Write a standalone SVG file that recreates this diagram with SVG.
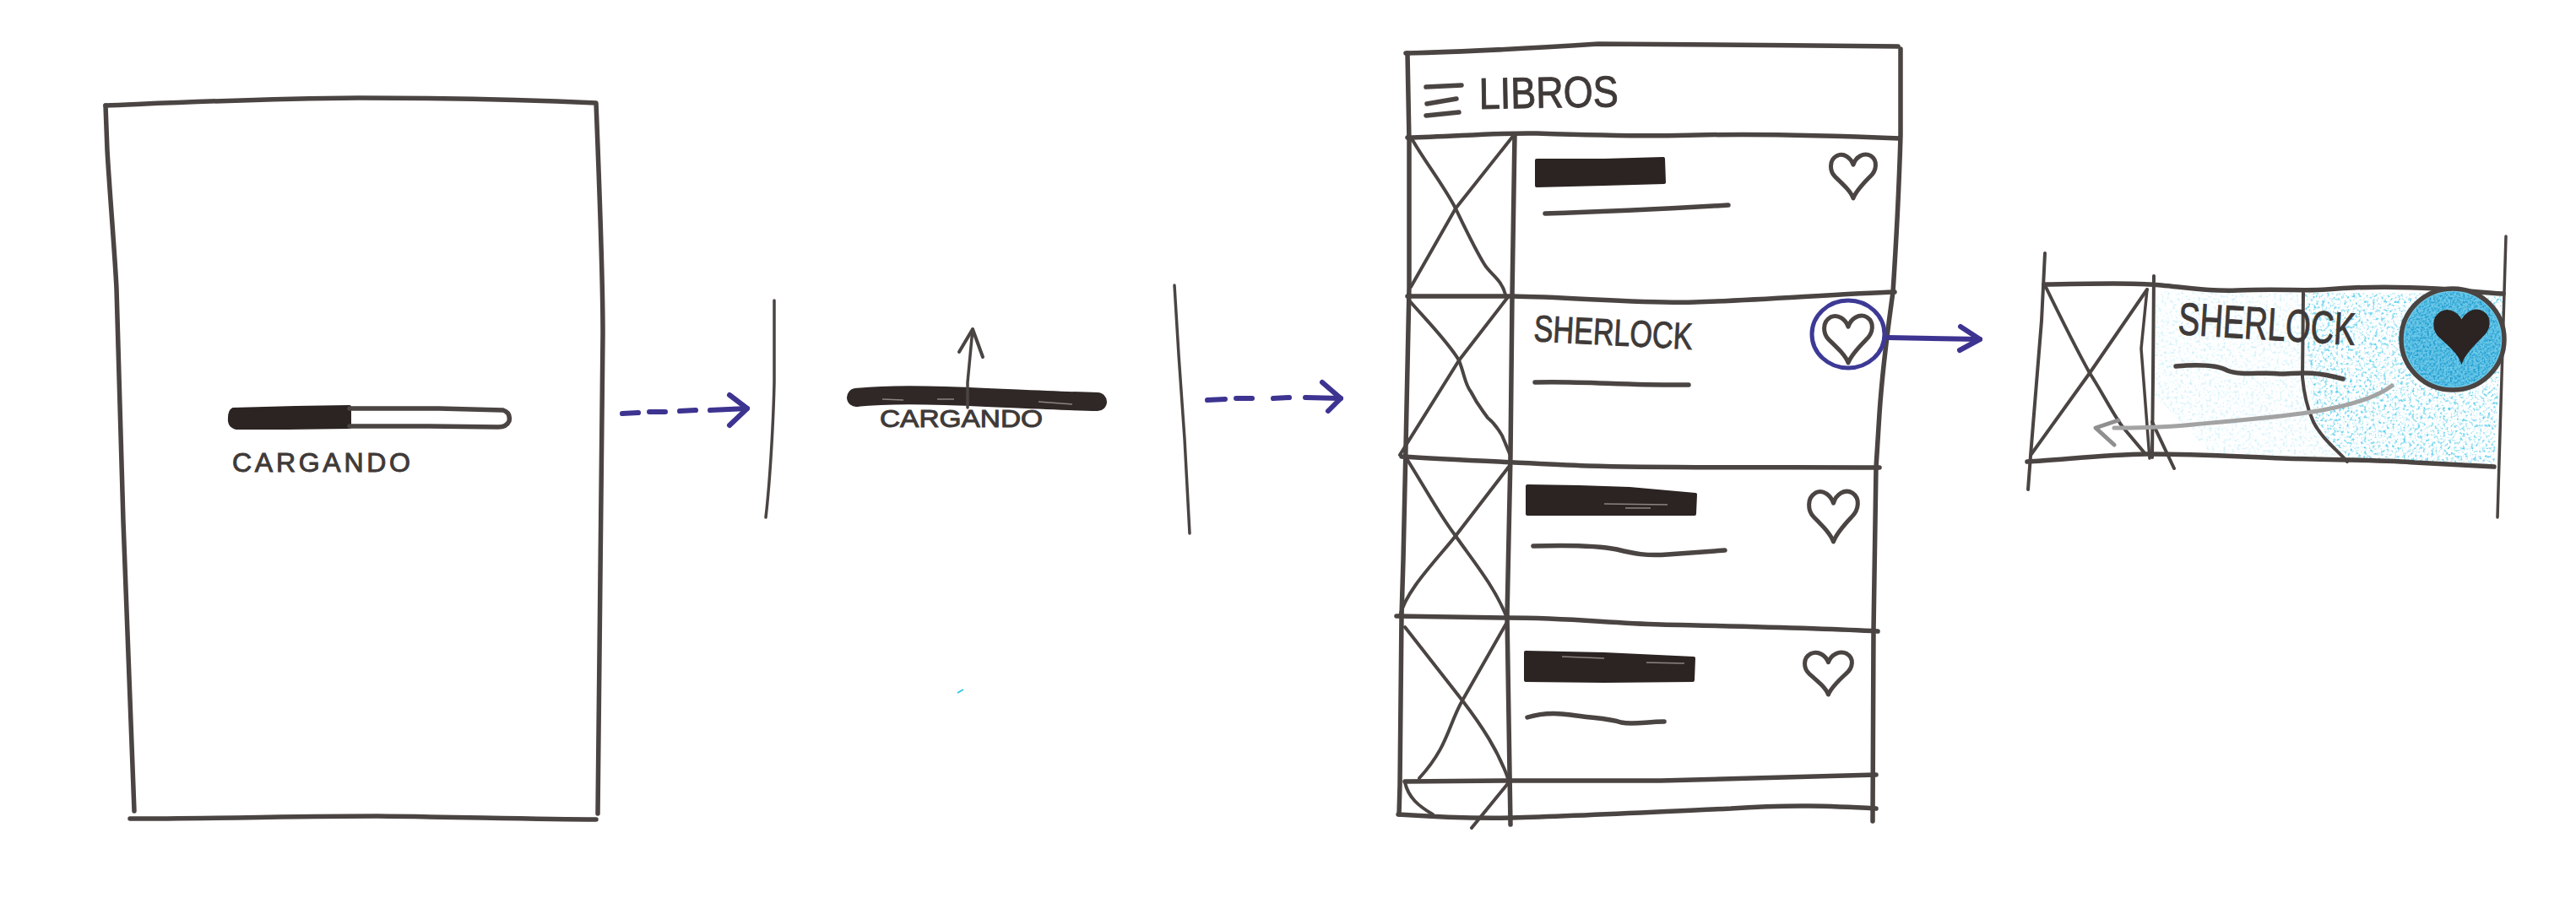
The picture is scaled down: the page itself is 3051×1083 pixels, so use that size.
<svg xmlns="http://www.w3.org/2000/svg" width="3051" height="1083" viewBox="0 0 3051 1083">
<style>
.p{fill:none;stroke:#4a4442;stroke-width:5.5;stroke-linecap:round;stroke-linejoin:round}
.t{stroke-width:4}
.n{stroke-width:3.5}
.ink{fill:#2b2422;stroke:#2b2422;stroke-width:4;stroke-linejoin:round}
.b{fill:none;stroke:#3d3390;stroke-width:6;stroke-linecap:round;stroke-linejoin:round}
.hand{font-family:"Liberation Sans",Arial,sans-serif;fill:#3f3a38;stroke:#3f3a38;stroke-width:1}
.h{fill:none;stroke:#4a4442;stroke-width:5;stroke-linejoin:round}
.st{fill:none;stroke:#8a8482;stroke-width:1.5}
</style>
<defs>
<path id="heart" vector-effect="non-scaling-stroke" d="M50,100 C45,85 30,70 12,52 C0,40 -2,15 15,5 C30,-3 45,10 50,25 C55,8 72,-4 87,5 C102,15 100,38 85,52 C70,68 55,85 50,100 Z"/>
<filter id="speck" x="0" y="0" width="100%" height="100%">
<feTurbulence type="fractalNoise" baseFrequency=".3" numOctaves="3" seed="4"/>
<feColorMatrix values="0 0 0 0 0 0 0 0 0 0 0 0 0 0 0 3.4 0 0 0 -1.7"/>
<feComposite in="SourceGraphic" operator="in"/>
</filter>
<filter id="dense" x="0" y="0" width="100%" height="100%">
<feTurbulence type="fractalNoise" baseFrequency=".4" numOctaves="3" seed="9"/>
<feColorMatrix values="0 0 0 0 0 0 0 0 0 0 0 0 0 0 0 2.6 0 0 0 -1"/>
<feComposite in="SourceGraphic" operator="in"/>
</filter>
</defs>
<rect width="3051" height="1083" fill="#fff"/>

<g id="screen-loading">
<path class="p" d="M125,125 C200,122 300,117 425,116 C520,116 620,118 706,122 C709,200 714,320 714,395 L708,964"/>
<path class="p" d="M125,125 L127,178 C130,230 136,300 138,342 L146,618 L159,961"/>
<path class="p" d="M154,970 C250,970 360,967 447,967 C540,968 640,971 706,971"/>
<path class="ink" d="M276,485 L350,483 L414,482 L414,506 L340,507 L280,507 Q271,505 272,495 Q272,487 276,485 Z"/>
<path class="p" d="M414,484 L520,484 L596,486 Q605,489 603,499 Q600,506 590,506 L500,505 L414,505"/>
<text class="hand" x="275" y="559" font-size="32" textLength="211" lengthAdjust="spacing">CARGANDO</text>
</g>

<g id="screen-transition">
<path class="p n" d="M917,356 L917,453 C916,500 912,570 907,613"/>
<path class="p n" d="M1391,338 L1396,420 L1403,520 L1409,632"/>
<path d="M1014,471 C1050,467 1090,468 1120,469 C1180,471 1250,475 1300,476" fill="none" stroke="#2f2826" stroke-width="22" stroke-linecap="round" stroke-linejoin="round"/>
<path class="st" d="M1045,473 L1070,474 M1110,473 L1130,473 M1230,476 L1270,479"/>
<path class="p n" d="M1146,483 L1146,453 L1152,390"/>
<path class="p t" d="M1136,417 L1152,390 L1164,423"/>
<text class="hand" x="1042" y="506" font-size="30" textLength="193" lengthAdjust="spacingAndGlyphs">CARGANDO</text>
</g>

<g id="screen-libros">
<path class="p" d="M1665,63 C1720,62 1800,58 1893,52 C1980,52 2130,54 2248,55"/>
<path class="p" d="M1667,63 L1669,168 L1669,340 L1665,530 L1662,663 L1660,730 L1658,930 L1657,965"/>
<path class="p" d="M2251,58 L2251,161 C2249,230 2245,300 2242,346 C2236,390 2230,430 2226,490 L2222,554 L2219,747 L2218,973"/>
<path class="p" d="M1667,163 C1720,162 1770,157 1820,158 C1880,160 1960,162 2010,160 C2100,158 2180,161 2250,164"/>
<path class="p" d="M1794,159 L1791,351 L1789,540 L1785,730 L1789,977"/>
<path class="p" d="M1667,351 L1791,351 C1860,352 1950,360 2007,358 C2080,356 2180,348 2244,346"/>
<path class="p" d="M1660,541 C1720,545 1800,548 1880,552 C1980,555 2100,553 2226,554"/>
<path class="p" d="M1654,730 L1785,732 C1860,732 1900,738 1967,740 C2050,742 2150,744 2224,748"/>
<path class="p" d="M1664,926 L1787,925 L1967,925 L2222,918"/>
<path class="p" d="M1656,965 C1700,968 1740,970 1790,969 C1870,967 1960,962 2050,958 C2120,953 2170,955 2222,958"/>
<g id="image-placeholders">
<path class="p t" d="M1673,166 C1690,195 1710,220 1724,247 C1735,270 1748,297 1758,313 C1765,325 1778,330 1783,349"/>
<path class="p t" d="M1793,160 L1724,247 L1671,340"/>
<path class="p t" d="M1669,356 C1690,380 1715,405 1728,427 C1735,445 1735,455 1742,464 C1750,480 1755,485 1762,495 C1772,503 1775,510 1779,516 L1789,540"/>
<path class="p t" d="M1786,352 L1728,427 L1658,539"/>
<path class="p t" d="M1667,545 C1695,590 1705,610 1724,635 C1745,665 1770,695 1784,730"/>
<path class="p t" d="M1787,553 L1724,635 C1700,665 1665,700 1658,730"/>
<path class="p t" d="M1664,743 L1732,830 C1755,860 1775,890 1787,925"/>
<path class="p t" d="M1785,737 L1732,830 C1715,860 1715,885 1681,922"/>
<path class="p t" d="M1664,927 C1668,945 1680,955 1697,965"/>
<path class="p t" d="M1787,927 L1743,981"/>
</g>
<g id="header">
<path class="p" d="M1689,103 L1731,101"/>
<path class="p" d="M1690,123 L1725,117"/>
<path class="p" d="M1689,137 L1728,133"/>
<text class="hand" x="1752" y="129" font-size="52" textLength="165" lengthAdjust="spacingAndGlyphs" transform="rotate(-1 1752 129)">LIBROS</text>
</g>
<g id="row-1">
<path class="ink" d="M1820,190 L1900,190 L1970,188 L1971,216 L1900,218 L1820,220 Z"/>
<path class="p" d="M1830,253 Q1930,250 2047,243"/>
<use href="#heart" class="h" transform="translate(2167,182) scale(.56,.53)"/>
</g>
<g id="row-2">
<text class="hand" x="1816" y="404" font-size="44" textLength="188" lengthAdjust="spacingAndGlyphs" transform="rotate(3 1816 404)">SHERLOCK</text>
<path class="p" d="M1818,453 C1870,451 1930,457 2000,456"/>
<use href="#heart" class="h" transform="translate(2159,373) scale(.6,.57)"/>
<ellipse cx="2189" cy="396" rx="43" ry="40" fill="none" stroke="#3d3a96" stroke-width="5"/>
</g>
<g id="row-3">
<path class="ink" d="M1809,576 L1870,577 L1930,579 L2008,586 L2007,609 L1930,609 L1809,609 Z"/>
<path class="st" d="M1900,597 L1975,598 M1925,602 L1955,602"/>
<path class="p" d="M1816,647 C1850,646 1890,646 1915,651 C1935,656 1950,659 1975,657 L2043,652"/>
<use href="#heart" class="h" transform="translate(2141,581) scale(.61,.61)"/>
</g>
<g id="row-4">
<path class="ink" d="M1807,773 L1900,775 L2006,780 L2005,806 L1900,807 L1807,806 Z"/>
<path class="st" d="M1850,778 L1900,780 M1950,785 L1995,786"/>
<path class="p" d="M1809,850 C1825,845 1840,844 1860,847 C1885,851 1905,851 1920,856 C1935,859 1950,855 1971,855"/>
<use href="#heart" class="h" transform="translate(2136,772) scale(.59,.51)"/>
</g>
</g>

<g id="screen-swipe">
<path d="M2728,347 L2965,348 L2954,553 L2780,547 L2740,500 Z" fill="#5fd0ec" filter="url(#speck)"/>
<path d="M2552,345 L2728,347 L2740,500 L2780,547 L2620,538 L2552,470 Z" fill="#a9e5f5" opacity=".5" filter="url(#speck)"/>
<path class="p t" d="M2422,300 L2418,380 L2405,540 L2402,580"/>
<path class="p t" d="M2551,327 L2550,447 L2549,542"/>
<path class="p n" d="M2543,343 L2536,413 L2546,543"/>
<path class="p t" d="M2422,338 C2440,375 2460,415 2475,442 C2490,465 2505,495 2515,507 L2541,538"/>
<path class="p t" d="M2543,343 L2475,442 L2406,538"/>
<path class="p t" d="M2549,500 L2575,555"/>
<path class="p t" d="M2728,347 L2727,447 C2730,480 2738,495 2740,500 C2750,520 2770,535 2780,547"/>
<path class="p n" d="M2968,280 L2965,380 L2958,613"/>
<path class="p" d="M2421,337 C2480,336 2530,335 2560,338 C2600,342 2620,345 2650,344 C2700,342 2730,345 2755,343 C2800,339 2850,340 2886,342 C2920,344 2940,347 2965,348"/>
<path class="p" d="M2401,547 C2440,545 2500,538 2546,538 C2600,538 2650,541 2703,543 C2760,545 2830,545 2860,548 L2954,553"/>
<text class="hand" x="2579" y="396" font-size="54" textLength="210" lengthAdjust="spacingAndGlyphs" transform="rotate(3.5 2579 396)">SHERLOCK</text>
<path class="p" d="M2577,434 C2600,432 2625,432 2638,439 C2655,446 2680,440 2700,443 C2720,443 2735,438 2775,449"/>
<ellipse cx="2905" cy="402" rx="61" ry="60" fill="#6cc8e8" stroke="#4a4442" stroke-width="5.5"/>
<ellipse cx="2905" cy="402" rx="57" ry="56" fill="#1c9bcf" filter="url(#dense)"/>
<use href="#heart" style="fill:#2b2422;stroke:#2b2422;stroke-width:3" transform="translate(2882,367) scale(.67,.61)"/>
<path d="M2833,457 C2790,490 2680,495 2598,503 C2560,507 2530,507 2504,507" fill="none" stroke="#a3a3a3" stroke-width="5" stroke-linecap="round" stroke-linejoin="round"/>
<path d="M2509,498 L2482,507 L2504,527" fill="none" stroke="#8f8f8f" stroke-width="5" stroke-linecap="round" stroke-linejoin="round"/>
</g>

<g id="connectors">
<path class="b" d="M737,490 L756,489 M769,488 L788,488 M805,487 L824,486 M841,486 L885,484"/>
<path class="b" d="M864,468 L885,484 L864,504"/>
<path class="b" d="M1430,474 L1451,473 M1464,472 L1483,472 M1508,472 L1527,471 M1546,471 L1588,472"/>
<path class="b" d="M1566,453 L1588,472 L1573,487"/>
<path class="b" d="M2236,400 L2345,402"/>
<path class="b" d="M2322,387 L2345,402 L2321,415"/>
</g>
<path d="M1134,821 L1141,817" stroke="#35c4e4" stroke-width="2" fill="none"/>
</svg>
